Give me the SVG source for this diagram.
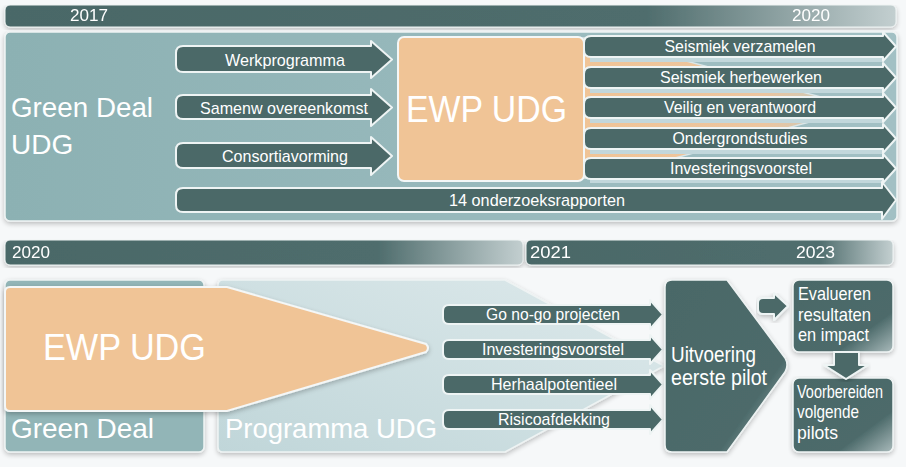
<svg xmlns="http://www.w3.org/2000/svg" width="906" height="467" viewBox="0 0 906 467">
<style>
  text { font-family: "Liberation Sans", Arial, sans-serif; fill: #ffffff; }
  .arr { fill: #4b6968; stroke: #eef4f4; stroke-width: 2; stroke-linejoin: round; }
  .at { font-size: 17px; text-anchor: middle; }
  .yr { font-size: 17px; }
  .big { font-size: 28px; }
  .strip { fill: #c2d7db; }
</style>
<defs>
  <linearGradient id="barG" x1="0" y1="0" x2="1" y2="0">
    <stop offset="0" stop-color="#4a6867"/>
    <stop offset="0.72" stop-color="#4f6d6d"/>
    <stop offset="1" stop-color="#c3cfd0"/>
  </linearGradient>
  <linearGradient id="barG2" x1="0" y1="0" x2="1" y2="0">
    <stop offset="0" stop-color="#4a6867"/>
    <stop offset="0.8" stop-color="#506e6e"/>
    <stop offset="1" stop-color="#c3cfd0"/>
  </linearGradient>
  <linearGradient id="panelG" x1="0" y1="0" x2="1" y2="0">
    <stop offset="0" stop-color="#8cb1b3"/>
    <stop offset="1" stop-color="#a2c0c4"/>
  </linearGradient>
  <linearGradient id="progG" x1="0" y1="1" x2="1" y2="0">
    <stop offset="0" stop-color="#c0d6d9"/>
    <stop offset="1" stop-color="#dde9eb"/>
  </linearGradient>
  <linearGradient id="darkG" x1="0" y1="0" x2="1" y2="1">
    <stop offset="0" stop-color="#4a6867"/>
    <stop offset="0.72" stop-color="#4d6b6b"/>
    <stop offset="1" stop-color="#a9babb"/>
  </linearGradient>
  <linearGradient id="wedgeG" x1="0" y1="0" x2="1" y2="0">
    <stop offset="0" stop-color="#f0c496"/>
    <stop offset="0.65" stop-color="#ebc59f"/>
    <stop offset="1" stop-color="#b9ccc8"/>
  </linearGradient>
  <filter id="sh" x="-5%" y="-5%" width="110%" height="115%">
    <feGaussianBlur in="SourceAlpha" stdDeviation="2.5"/>
    <feOffset dx="0" dy="2" result="b"/>
    <feComponentTransfer><feFuncA type="linear" slope="0.25"/></feComponentTransfer>
    <feMerge><feMergeNode/><feMergeNode in="SourceGraphic"/></feMerge>
  </filter>
</defs>

<rect x="0" y="0" width="906" height="467" fill="#f6f8f9"/>

<!-- Upper timeline -->
<g id="timeline-top" filter="url(#sh)">
  <rect x="5" y="5" width="891" height="22" rx="5" fill="url(#barG)" stroke="#eef3f3" stroke-width="1"/>
  <text class="yr" x="70" y="21" textLength="38" lengthAdjust="spacingAndGlyphs">2017</text>
  <text class="yr" x="792" y="21" textLength="38" lengthAdjust="spacingAndGlyphs">2020</text>
</g>

<!-- Upper panel -->
<g id="green-deal-udg">
  <rect x="5" y="32" width="892" height="189" rx="5" fill="url(#panelG)" stroke="#eef3f3" stroke-width="1.5" filter="url(#sh)"/>
  <text class="big" x="11" y="117" textLength="142" lengthAdjust="spacingAndGlyphs">Green Deal</text>
  <text class="big" x="11" y="154">UDG</text>
</g>

<!-- EWP wedge behind right arrows -->
<g id="ewp-wedge">
  <polygon points="580,38 600,38 862,108 600,178 580,178" fill="url(#wedgeG)" stroke="#d9e6e8" stroke-width="1.5"/>
</g>

<g id="ewp-udg-top">
  <rect x="398" y="37" width="186" height="144" rx="6" fill="#f0c496" stroke="#f4f7f7" stroke-width="2"/>
  <text x="406" y="122" style="font-size:37px" textLength="161" lengthAdjust="spacingAndGlyphs">EWP UDG</text>
</g>

<!-- Left input arrows -->
<g id="werkprogramma">
  <path class="arr" d="M183,46 H371 V41 L392,59.5 L371,78 V72 H183 Q176,72 176,65 V53 Q176,46 183,46 Z"/>
  <text class="at" x="285" y="66" textLength="120" lengthAdjust="spacingAndGlyphs">Werkprogramma</text>
</g>
<g id="samenw-overeenkomst">
  <path class="arr" d="M183,95 H371 V89 L392,107.5 L371,126 V119 H183 Q176,119 176,112 V102 Q176,95 183,95 Z"/>
  <text class="at" x="284" y="114" textLength="168" lengthAdjust="spacingAndGlyphs">Samenw overeenkomst</text>
</g>
<g id="consortiavorming">
  <path class="arr" d="M183,143 H371 V137 L392,156 L371,175 V168 H183 Q176,168 176,161 V150 Q176,143 183,143 Z"/>
  <text class="at" x="285" y="162" textLength="126" lengthAdjust="spacingAndGlyphs">Consortiavorming</text>
</g>

<!-- Right output arrows -->
<g id="strips">
  <rect class="strip" x="590" y="57" width="292" height="5"/>
  <rect class="strip" x="590" y="88" width="292" height="5"/>
  <rect class="strip" x="590" y="118" width="292" height="5"/>
  <rect class="strip" x="590" y="149" width="292" height="5"/>
  <rect class="strip" x="590" y="179" width="292" height="4"/>
</g>
<g id="seismiek-verzamelen">
  <path class="arr" d="M591,36 H883 V32 L896,46.5 L883,61 V57 H591 Q584,57 584,50 V43 Q584,36 591,36 Z"/>
  <text class="at" x="740" y="52" textLength="151" lengthAdjust="spacingAndGlyphs">Seismiek verzamelen</text>
</g>
<g id="seismiek-herbewerken">
  <path class="arr" d="M591,67 H883 V63 L896,77.5 L883,92 V88 H591 Q584,88 584,81 V74 Q584,67 591,67 Z"/>
  <text class="at" x="741" y="83" textLength="162" lengthAdjust="spacingAndGlyphs">Seismiek herbewerken</text>
</g>
<g id="veilig-en-verantwoord">
  <path class="arr" d="M591,97 H883 V93 L896,107.5 L883,122 V118 H591 Q584,118 584,111 V104 Q584,97 591,97 Z"/>
  <text class="at" x="740" y="113" textLength="152" lengthAdjust="spacingAndGlyphs">Veilig en verantwoord</text>
</g>
<g id="ondergrondstudies">
  <path class="arr" d="M591,128 H883 V124 L896,138.5 L883,153 V149 H591 Q584,149 584,142 V135 Q584,128 591,128 Z"/>
  <text class="at" x="740" y="144" textLength="135" lengthAdjust="spacingAndGlyphs">Ondergrondstudies</text>
</g>
<g id="investeringsvoorstel-top">
  <path class="arr" d="M591,158 H883 V154 L896,168.5 L883,183 V179 H591 Q584,179 584,172 V165 Q584,158 591,158 Z"/>
  <text class="at" x="741" y="174" textLength="142" lengthAdjust="spacingAndGlyphs">Investeringsvoorstel</text>
</g>
<g id="onderzoeksrapporten">
  <path class="arr" d="M183,188 H882 V182 L896,200 L882,219 V212 H183 Q176,212 176,205 V195 Q176,188 183,188 Z"/>
  <text class="at" x="537" y="206" textLength="176" lengthAdjust="spacingAndGlyphs">14 onderzoeksrapporten</text>
</g>

<!-- Lower timelines -->
<g id="timeline-2020" filter="url(#sh)">
  <rect x="5" y="240" width="518" height="25" rx="5" fill="url(#barG)" stroke="#eef3f3" stroke-width="1"/>
  <text class="yr" x="12" y="258" textLength="38" lengthAdjust="spacingAndGlyphs">2020</text>
</g>
<g id="timeline-2021" filter="url(#sh)">
  <rect x="526" y="240" width="367" height="25" rx="5" fill="url(#barG2)" stroke="#eef3f3" stroke-width="1"/>
  <text class="yr" x="530" y="258" textLength="41" lengthAdjust="spacingAndGlyphs">2021</text>
  <text class="yr" x="796" y="258" textLength="39" lengthAdjust="spacingAndGlyphs">2023</text>
</g>

<!-- Lower panels -->
<g id="green-deal">
  <rect x="5" y="280" width="199" height="172" rx="5" fill="#92b5b7" stroke="#eef3f3" stroke-width="1.5" filter="url(#sh)"/>
  <text class="big" x="11" y="438" textLength="143" lengthAdjust="spacingAndGlyphs">Green Deal</text>
</g>
<g id="programma-udg">
  <path d="M223,280 H505 L664,366 L505,452 H223 Q218,452 218,447 V285 Q218,280 223,280 Z" fill="url(#progG)" stroke="#eef3f3" stroke-width="1.5" filter="url(#sh)"/>
  <text class="big" x="225" y="438" textLength="212" lengthAdjust="spacingAndGlyphs" fill="#f4f8f8">Programma UDG</text>
</g>
<g id="ewp-udg-bottom">
  <path d="M10,287 H227 L426,344 Q430,348 426,352 L227,411 H10 Q5,411 5,406 V292 Q5,287 10,287 Z" fill="#f0c496" stroke="#f4f7f7" stroke-width="2" filter="url(#sh)"/>
  <text x="43" y="360" style="font-size:37px" textLength="163" lengthAdjust="spacingAndGlyphs">EWP UDG</text>
</g>

<!-- Lower arrows -->
<g id="go-no-go">
  <path class="arr" d="M449,305 H650 V300 L663,314.5 L650,329 V324 H449 Q443,324 443,318 V311 Q443,305 449,305 Z"/>
  <text class="at" x="553" y="320" textLength="134" lengthAdjust="spacingAndGlyphs">Go no-go projecten</text>
</g>
<g id="investeringsvoorstel-bottom">
  <path class="arr" d="M449,340 H650 V335 L663,349.5 L650,364 V359 H449 Q443,359 443,353 V346 Q443,340 449,340 Z"/>
  <text class="at" x="553" y="355" textLength="142" lengthAdjust="spacingAndGlyphs">Investeringsvoorstel</text>
</g>
<g id="herhaalpotentieel">
  <path class="arr" d="M449,375 H650 V370 L663,384.5 L650,399 V394 H449 Q443,394 443,388 V381 Q443,375 449,375 Z"/>
  <text class="at" x="554" y="390" textLength="126" lengthAdjust="spacingAndGlyphs">Herhaalpotentieel</text>
</g>
<g id="risicoafdekking">
  <path class="arr" d="M449,410 H650 V405 L663,419.5 L650,434 V429 H449 Q443,429 443,423 V416 Q443,410 449,410 Z"/>
  <text class="at" x="554" y="425" textLength="112" lengthAdjust="spacingAndGlyphs">Risicoafdekking</text>
</g>

<g id="uitvoering-eerste-pilot">
  <path d="M672,280 H727 L785,358 Q789,365 785,372 L727,452 H672 Q665,452 665,445 V287 Q665,280 672,280 Z" fill="url(#darkG)" stroke="#eef3f3" stroke-width="1.5" filter="url(#sh)"/>
  <text x="671" y="362" style="font-size:22px" textLength="85" lengthAdjust="spacingAndGlyphs">Uitvoering</text>
  <text x="671" y="385" style="font-size:22px" textLength="96" lengthAdjust="spacingAndGlyphs">eerste pilot</text>
</g>

<g id="evalueren">
  <rect x="793" y="280" width="100" height="72" rx="6" fill="url(#darkG)" stroke="#eef3f3" stroke-width="1.5" filter="url(#sh)"/>
  <text x="798" y="300" style="font-size:19px" textLength="73" lengthAdjust="spacingAndGlyphs">Evalueren</text>
  <text x="798" y="321" style="font-size:19px" textLength="73" lengthAdjust="spacingAndGlyphs">resultaten</text>
  <text x="798" y="341" style="font-size:19px" textLength="71" lengthAdjust="spacingAndGlyphs">en impact</text>
</g>
<g id="voorbereiden">
  <rect x="793" y="378" width="100" height="74" rx="6" fill="url(#darkG)" stroke="#eef3f3" stroke-width="1.5" filter="url(#sh)"/>
  <text x="797" y="398" style="font-size:18px" textLength="86" lengthAdjust="spacingAndGlyphs">Voorbereiden</text>
  <text x="797" y="418" style="font-size:19px" textLength="62" lengthAdjust="spacingAndGlyphs">volgende</text>
  <text x="797" y="439" style="font-size:19px" textLength="41" lengthAdjust="spacingAndGlyphs">pilots</text>
</g>

<!-- Connectors -->
<g id="connectors">
  <path class="arr" d="M763,298 H774 V293 L788,306 L774,320 V314 H763 Q758,314 758,309 V303 Q758,298 763,298 Z" filter="url(#sh)"/>
  <path class="arr" d="M834,352 H859 V365 H868 L846,379 L824,365 H834 Z" filter="url(#sh)"/>
</g>
</svg>
